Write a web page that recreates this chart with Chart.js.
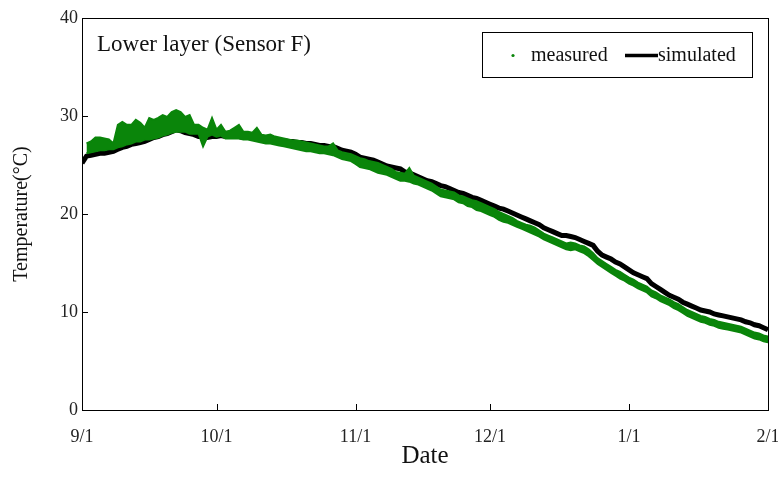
<!DOCTYPE html>
<html>
<head>
<meta charset="utf-8">
<script src="https://cdn.jsdelivr.net/npm/chart.js@4.4.0/dist/chart.umd.min.js"></script>
<style>
  body { margin: 0; background: #fff; }
  #wrap { width: 778px; height: 493px; }
</style>
</head>
<body>
<div id="wrap"><canvas id="tempChart" width="778" height="493"></canvas></div>
<script>
// days counted from 9/1 (0) to 2/1 (153)
var xTickDays = [0, 30, 61, 91, 122, 153];
var xTickLabels = ['9/1', '10/1', '11/1', '12/1', '1/1', '2/1'];

// simulated temperature, one value per day
var simulated = [
  25.2,25.9,26.0,26.1,26.2,26.2,26.3,26.4,26.6,26.8,
  26.9,27.1,27.2,27.3,27.4,27.6,27.8,27.9,28.1,28.2,
  28.4,28.6,28.5,28.3,28.2,28.1,27.9,27.9,27.8,27.9,
  27.9,28.0,27.9,27.9,27.9,27.9,27.8,27.8,27.8,27.7,
  27.7,27.7,27.6,27.6,27.5,27.5,27.4,27.4,27.3,27.3,
  27.2,27.2,27.1,27.0,27.0,26.9,26.9,26.7,26.5,26.4,
  26.3,26.1,25.8,25.7,25.6,25.5,25.3,25.1,24.9,24.8,
  24.7,24.6,24.3,24.2,24.0,23.8,23.6,23.4,23.3,23.1,
  22.9,22.8,22.6,22.4,22.2,22.1,21.9,21.7,21.6,21.4,
  21.2,21.0,20.8,20.6,20.5,20.3,20.1,19.9,19.7,19.5,
  19.3,19.1,18.9,18.6,18.4,18.2,18.0,17.8,17.8,17.7,
  17.6,17.4,17.2,17.0,16.8,16.2,15.8,15.6,15.4,15.1,
  14.9,14.6,14.3,14.0,13.8,13.6,13.4,12.9,12.6,12.3,
  12.0,11.7,11.5,11.3,11.0,10.8,10.6,10.4,10.2,10.1,
  10.0,9.8,9.7,9.6,9.5,9.4,9.3,9.2,9.0,8.9,
  8.7,8.6,8.4,8.2
];

// measured temperature, daily high and low
var measuredHigh = [null,
  27.2,27.4,27.8,27.8,27.7,27.6,27.2,29.1,29.4,29.1,
  29.1,29.6,29.3,28.8,29.8,29.6,29.8,30.1,29.9,30.4,
  30.6,30.4,29.9,30.1,29.1,29.1,28.8,28.6,29.8,28.6,
  29.1,28.4,28.5,28.8,29.1,28.4,28.4,28.3,28.8,28.1,
  28.0,28.1,27.9,27.8,27.7,27.6,27.5,27.5,27.4,27.3,
  27.2,27.1,27.0,26.9,26.9,27.2,26.5,26.3,26.2,26.1,
  25.9,25.7,25.6,25.4,25.3,25.2,25.0,24.8,24.6,24.3,
  24.2,24.1,24.7,23.9,23.7,23.5,23.3,23.1,22.8,22.5,
  22.4,22.3,22.2,21.9,21.8,21.6,21.4,21.3,21.1,20.9,
  20.7,20.5,20.2,20.0,19.8,19.6,19.3,19.1,18.9,18.8,
  18.6,18.3,18.0,17.8,17.6,17.4,17.2,17.0,17.1,17.0,
  16.8,16.7,16.4,16.0,15.5,15.2,14.9,14.6,14.3,14.1,
  13.8,13.5,13.3,13.0,12.8,12.6,12.2,12.0,11.7,11.5,
  11.3,11.0,10.8,10.5,10.2,10.0,9.8,9.6,9.5,9.3,
  9.2,9.0,8.9,8.8,8.7,8.6,8.5,8.3,8.1,7.9,
  7.8,7.6,7.5
];
var measuredLow = [null,
  26.2,26.3,26.4,26.5,26.5,26.6,26.6,26.8,26.9,27.1,
  27.2,27.4,27.4,27.6,27.6,27.7,27.8,28.0,28.1,28.3,
  28.4,28.4,28.4,28.2,28.2,28.2,26.9,27.9,28.1,27.9,
  28.0,27.7,27.7,27.7,27.7,27.6,27.6,27.5,27.4,27.3,
  27.2,27.2,27.1,27.0,26.9,26.8,26.7,26.6,26.5,26.4,
  26.4,26.3,26.2,26.2,26.1,26.0,25.8,25.6,25.5,25.4,
  25.1,24.8,24.7,24.6,24.4,24.2,24.1,24.0,23.8,23.6,
  23.4,23.4,23.3,23.1,23.0,22.8,22.6,22.4,22.1,21.8,
  21.7,21.6,21.5,21.2,21.1,20.8,20.7,20.4,20.3,20.1,
  19.9,19.7,19.4,19.2,19.1,18.9,18.7,18.5,18.3,18.1,
  17.9,17.7,17.4,17.2,17.0,16.8,16.6,16.4,16.3,16.4,
  16.2,16.0,15.7,15.3,14.9,14.6,14.3,14.0,13.7,13.4,
  13.2,12.9,12.7,12.4,12.2,12.0,11.6,11.4,11.1,10.9,
  10.7,10.4,10.2,9.9,9.6,9.4,9.2,9.0,8.9,8.7,
  8.6,8.4,8.3,8.2,8.1,8.0,7.9,7.7,7.5,7.3,
  7.2,7.0,6.9
];

var serif = '"Liberation Serif", "Times New Roman", serif';
var green = '#0a850a';

function toPoints(arr) {
  return arr.map(function(v, d) { return {x: d, y: v}; }).filter(function(p) { return p.y != null; });
}

var frame = {
  id: 'frame',
  afterDraw: function(chart) {
    var ctx = chart.ctx, a = chart.chartArea;
    var xs = chart.scales.x, ys = chart.scales.y;
    ctx.save();
    ctx.strokeStyle = '#000';
    ctx.lineWidth = 1;
    ctx.strokeRect(Math.round(a.left) + 0.5, Math.round(a.top) + 0.5,
                   Math.round(a.right - a.left), Math.round(a.bottom - a.top));
    // tick marks point into the plot
    ctx.beginPath();
    xTickDays.forEach(function(d) {
      var px = Math.round(xs.getPixelForValue(d)) + 0.5;
      ctx.moveTo(px, a.bottom);
      ctx.lineTo(px, a.bottom - 6);
    });
    ys.ticks.forEach(function(t) {
      var py = Math.round(ys.getPixelForValue(t.value)) + 0.5;
      ctx.moveTo(a.left, py);
      ctx.lineTo(a.left + 6, py);
    });
    ctx.stroke();

    // caption
    ctx.fillStyle = '#111';
    ctx.font = '23px ' + serif;
    ctx.textBaseline = 'middle';
    ctx.textAlign = 'left';
    ctx.fillText('Lower layer (Sensor F)', a.left + 15, a.top + 27);

    // legend box
    var lx = a.right - 286, ly = a.top + 14, lw = 270, lh = 45;
    ctx.strokeRect(Math.round(lx) + 0.5, Math.round(ly) + 0.5, lw, lh);
    var cy = ly + lh / 2 + 1;
    ctx.fillStyle = green;
    ctx.beginPath();
    ctx.arc(lx + 31, cy, 1.6, 0, Math.PI * 2);
    ctx.fill();
    ctx.fillStyle = '#111';
    ctx.font = '20px ' + serif;
    ctx.fillText('measured', lx + 49, cy);
    ctx.strokeStyle = '#000';
    ctx.lineWidth = 3.5;
    ctx.beginPath();
    ctx.moveTo(lx + 143, cy);
    ctx.lineTo(lx + 176, cy);
    ctx.stroke();
    ctx.fillText('simulated', lx + 176, cy);
    ctx.restore();
  }
};

new Chart(document.getElementById('tempChart'), {
  type: 'line',
  data: {
    datasets: [
      {
        // daily high, filled down to the daily low
        label: 'measured',
        data: toPoints(measuredHigh),
        borderColor: green,
        backgroundColor: green,
        borderWidth: 2,
        pointRadius: 0,
        tension: 0,
        fill: '+1'
      },
      {
        label: 'measured low',
        data: toPoints(measuredLow),
        borderColor: green,
        borderWidth: 2,
        pointRadius: 0,
        tension: 0,
        fill: false
      },
      {
        label: 'simulated',
        data: toPoints(simulated),
        borderColor: '#000',
        borderWidth: 5,
        pointRadius: 0,
        tension: 0,
        fill: false
      }
    ]
  },
  options: {
    responsive: false,
    animation: false,
    layout: { padding: { top: 18, right: 10, left: 0, bottom: 0 } },
    plugins: { legend: { display: false }, tooltip: { enabled: false } },
    scales: {
      x: {
        type: 'linear',
        min: 0,
        max: 153,
        grid: { display: false, drawTicks: false },
        border: { display: false },
        afterBuildTicks: function(s) {
          s.ticks = xTickDays.map(function(v) { return {value: v}; });
        },
        afterFit: function(s) {
          s.height = 83;
          s.paddingLeft = 0;
          s.paddingRight = 0;
        },
        ticks: {
          autoSkip: false,
          maxRotation: 0,
          padding: 16,
          color: '#222',
          font: { family: serif, size: 18 },
          callback: function(v) { return xTickLabels[xTickDays.indexOf(v)]; }
        },
        title: {
          display: true,
          text: 'Date',
          color: '#111',
          font: { family: serif, size: 25 },
          padding: { bottom: 22 }
        }
      },
      y: {
        min: 0,
        max: 40,
        grid: { display: false, drawTicks: false },
        border: { display: false },
        afterFit: function(s) { s.width = 82; },
        ticks: {
          stepSize: 10,
          padding: 4,
          color: '#222',
          font: { family: serif, size: 18 }
        },
        title: {
          display: true,
          text: 'Temperature(°C)',
          color: '#111',
          font: { family: serif, size: 20 },
          padding: { top: 10 }
        }
      }
    }
  },
  plugins: [frame]
});
</script>
</body>
</html>
